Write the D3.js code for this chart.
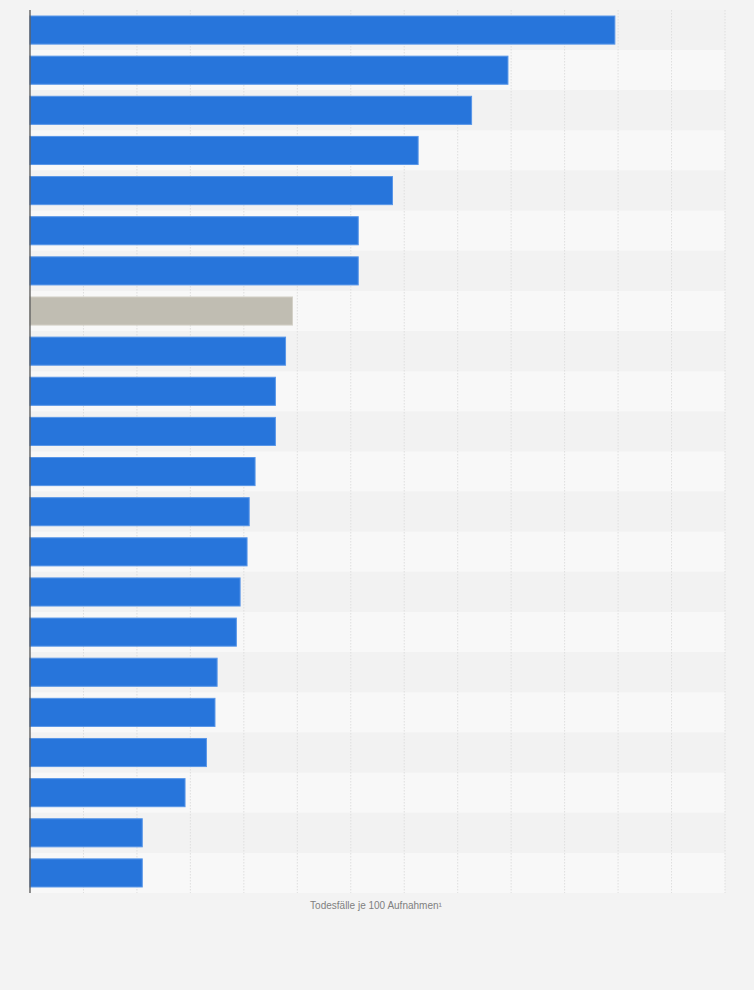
<!DOCTYPE html>
<html>
<head>
<meta charset="utf-8">
<script src="https://cdn.jsdelivr.net/npm/d3@7"></script>
<style>
  html, body { margin: 0; padding: 0; background: #f3f3f3; }
  .chart text { font-family: "Liberation Sans", Arial, sans-serif; }
</style>
</head>
<body>
<div class="chart"></div>
<script>
// Bars from top to bottom (category labels are not shown in the picture)
const rank = d3.range(1, 23);
const values = [10.94, 8.94, 8.26, 7.26, 6.78, 6.14, 6.14, 4.91, 4.78, 4.59, 4.59,
                4.21, 4.10, 4.06, 3.93, 3.86, 3.50, 3.46, 3.30, 2.90, 2.10, 2.10];
const highlighted = [8];   // the grey bar
const xTicks = d3.range(0, 14);
const axisTitle = "Todesfälle je 100 Aufnahmen¹";

function setupChart() {
    const width = 754;
    const height = 990;
    const margin = {'top': 10, 'right': 29, 'bottom': 97, 'left': 30};

    const x = d3.scaleLinear().domain([0, 13]).range([margin.left, width - margin.right]);
    const y = d3.scaleBand().domain(rank)
        .range([margin.top, height - margin.bottom])
        .paddingInner(0.3).paddingOuter(0.15);

    const svg = d3.select('.chart')
      .append('svg')
      .attr('width', width)
      .attr('height', height);

    svg.append('rect')
        .attr('width', width).attr('height', height)
        .attr('fill', '#f3f3f3');

    return { svg, x, y, width, height, margin };
}

function drawChart(c) {
    const { svg, x, y, margin, height } = c;
    const step = y.step();

    // alternating row bands
    svg.append('g').selectAll('rect')
      .data(rank)
      .enter().append('rect')
        .attr('x', x(0))
        .attr('width', x(13) - x(0))
        .attr('y', d => y(d) - y.paddingOuter() * step)
        .attr('height', step)
        .attr('fill', (d, i) => i % 2 === 0 ? '#f2f2f2' : '#f8f8f8');

    // dashed vertical grid
    svg.append('g').selectAll('line')
      .data(xTicks.slice(1))
      .enter().append('line')
        .attr('x1', d => x(d)).attr('x2', d => x(d))
        .attr('y1', margin.top).attr('y2', height - margin.bottom)
        .attr('stroke', '#dedede')
        .attr('stroke-width', 1)
        .attr('stroke-dasharray', '1.5,1.5');

    // bars
    svg.append('g').selectAll('rect')
      .data(values)
      .enter().append('rect')
        .attr('x', x(0))
        .attr('y', (d, i) => y(rank[i]))
        .attr('width', d => x(d) - x(0))
        .attr('height', y.bandwidth())
        .attr('fill', (d, i) => highlighted.includes(rank[i]) ? '#c0bdb2' : '#2775db')
        .attr('stroke', (d, i) => highlighted.includes(rank[i]) ? '#d4d1c8' : '#5896e8')
        .attr('stroke-width', 1);

    // left axis line
    svg.append('line')
        .attr('x1', x(0)).attr('x2', x(0))
        .attr('y1', margin.top).attr('y2', height - margin.bottom)
        .attr('stroke', '#555')
        .attr('stroke-width', 1.3);

    // axis title
    svg.append('text')
        .attr('x', 376)
        .attr('y', height - margin.bottom + 16)
        .attr('text-anchor', 'middle')
        .attr('font-size', 10)
        .attr('fill', '#808080')
        .text(axisTitle);
}

drawChart(setupChart());
</script>
</body>
</html>
